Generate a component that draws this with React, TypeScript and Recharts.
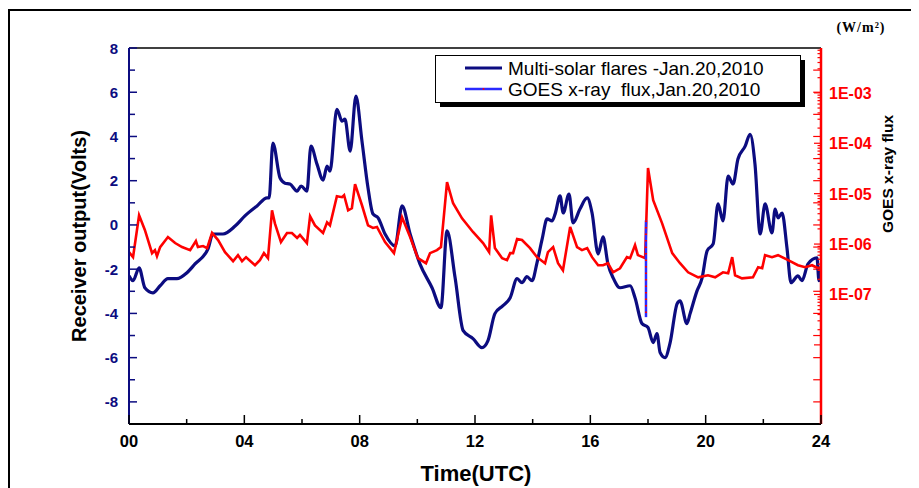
import React from 'react';
import { LineChart, Line, XAxis, YAxis, ReferenceLine } from 'recharts';

const NAVY = '#0c0c80';
const RED = '#ff0000';
const SPIKE_BLUE = '#2a2aff';
const FONT = '"Liberation Sans", Arial, sans-serif';

// Receiver output (Volts) vs time (hours UTC)
const flareHours = [
  0.0, 0.14, 0.35, 0.55, 0.83, 1.08, 1.35, 1.66, 2.01, 2.29,
  2.74, 2.91, 3.26, 3.68, 4.02, 4.44, 4.79, 4.86, 4.99, 5.24,
  5.41, 5.58, 5.83, 5.97, 6.17, 6.31, 6.52, 6.73, 6.87, 6.97,
  7.21, 7.39, 7.49, 7.67, 7.87, 8.08, 8.29, 8.46, 8.64, 8.88,
  9.23, 9.47, 9.75, 10.09, 10.51, 10.82, 11.03, 11.31, 11.59, 11.93,
  12.24, 12.45, 12.69, 12.97, 13.22, 13.46, 13.63, 13.8, 13.98, 14.15,
  14.33, 14.5, 14.67, 14.78, 14.95, 15.06, 15.26, 15.4, 15.64, 15.89,
  16.06, 16.27, 16.44, 16.61, 16.79, 17.03, 17.38, 17.55, 17.79, 18.0,
  18.18, 18.31, 18.42, 18.59, 18.76, 19.01, 19.11, 19.35, 19.46, 19.7,
  19.87, 20.05, 20.26, 20.43, 20.6, 20.78, 20.95, 21.12, 21.37, 21.54,
  21.71, 21.89, 22.06, 22.3, 22.41, 22.51, 22.65, 22.82, 22.96, 23.2,
  23.34, 23.55, 23.86, 23.93, 24.0,
];
const flareVolts = [
  -2.3, -2.52, -1.94, -2.84, -3.07, -2.75, -2.43, -2.43, -2.16, -1.76,
  -1.08, -0.41, -0.41, -0.05, 0.41, 0.86, 1.22, 1.22, 3.7, 2.12,
  1.89, 1.85, 1.53, 1.76, 1.53, 3.56, 2.75, 2.03, 2.66, 2.43,
  5.23, 4.69, 4.78, 3.34, 5.82, 3.79, 1.67, 0.5, 0.32, -0.41,
  -0.95, 0.86, -0.41, -1.76, -2.84, -3.74, -0.27, -2.39, -4.78, -5.14,
  -5.55, -5.23, -4.01, -3.65, -3.29, -2.43, -2.61, -2.34, -2.52, -1.71,
  -0.63, 0.27, 0.18, 0.5, 1.31, 0.54, 1.4, 0.09, 0.72, 1.22,
  0.54, -1.31, -0.54, -1.76, -2.39, -2.84, -2.75, -3.29, -4.46, -4.64,
  -5.32, -4.91, -5.77, -6.0, -5.37, -3.56, -3.43, -4.46, -4.01, -2.98,
  -2.43, -1.17, -0.86, 0.95, 0.18, 2.21, 1.85, 2.98, 3.56, 4.1,
  2.75, -0.41, 0.95, -0.36, 0.72, 0.32, 0.54, -1.04, -2.61, -2.3,
  -2.52, -1.76, -1.49, -2.52, -2.07,
];

// GOES x-ray flux, log10(W/m^2), vs time (hours UTC)
const goesHours = [
  0.0, 0.14, 0.35, 0.55, 0.8, 0.9, 0.97, 1.08, 1.35, 1.6,
  1.84, 2.12, 2.32, 2.39, 2.57, 2.71, 2.88, 3.09, 3.33, 3.61,
  3.78, 3.92, 4.06, 4.37, 4.54, 4.68, 4.82, 4.96, 5.06, 5.27,
  5.48, 5.65, 5.83, 5.93, 6.17, 6.28, 6.45, 6.73, 6.87, 6.97,
  7.21, 7.39, 7.46, 7.6, 7.73, 7.84, 8.08, 8.29, 8.46, 8.6,
  8.88, 9.19, 9.47, 9.75, 10.02, 10.3, 10.44, 10.68, 10.82, 11.03,
  11.24, 11.55, 11.93, 12.28, 12.49, 12.56, 12.69, 12.94, 13.11, 13.22,
  13.32, 13.46, 13.63, 13.91, 14.15, 14.43, 14.53, 14.71, 14.88, 15.05,
  15.3, 15.54, 15.71, 15.89, 16.06, 16.27, 16.44, 16.61, 16.79, 17.03,
  17.27, 17.38, 17.55, 17.65, 17.9, 18.0, 18.18, 18.49, 18.84, 19.11,
  19.39, 19.74, 20.08, 20.33, 20.6, 20.78, 20.92, 21.02, 21.26, 21.64,
  21.82, 21.96, 22.06, 22.3, 22.51, 22.86, 23.2, 23.45, 23.69, 23.9,
  24.0,
];
const goesLogFlux = [
  -6.16, -6.26, -5.43, -5.72, -6.18, -6.12, -6.24, -6.06, -5.86, -5.98,
  -6.06, -6.12, -5.94, -6.06, -6.04, -6.08, -5.78, -5.92, -6.16, -6.34,
  -6.22, -6.34, -6.26, -6.42, -6.32, -6.18, -6.28, -5.33, -5.59, -5.96,
  -5.78, -5.78, -5.88, -5.82, -5.98, -5.45, -5.63, -5.78, -5.57, -5.63,
  -5.05, -5.07, -5.03, -5.33, -5.29, -4.81, -5.23, -5.63, -5.68, -5.66,
  -5.96, -6.18, -5.47, -5.86, -6.28, -6.38, -6.18, -6.12, -6.06, -4.77,
  -5.19, -5.49, -5.76, -5.98, -6.16, -5.43, -6.08, -6.28, -6.32, -6.18,
  -6.18, -5.9, -5.92, -6.08, -6.26, -6.38, -6.16, -6.06, -6.38, -6.52,
  -5.66, -6.06, -6.12, -6.08, -6.26, -6.42, -6.42, -6.38, -6.56, -6.48,
  -6.26, -6.28, -6.02, -6.22, -6.28, -4.49, -5.13, -5.59, -6.18, -6.38,
  -6.56, -6.66, -6.62, -6.66, -6.56, -6.58, -6.26, -6.62, -6.68, -6.66,
  -6.46, -6.48, -6.22, -6.26, -6.22, -6.32, -6.42, -6.46, -6.42, -6.48,
  -6.46,
];

// data-gap spike in the GOES record
const spikeHours = [17.93, 17.93];
const spikeLogFlux = [-5.53, -7.45];

const xTicks = [0, 2, 4, 6, 8, 10, 12, 14, 16, 18, 20, 22, 24];
const xLabels = ['00', '04', '08', '12', '16', '20', '24'];
const voltTicks = [-8, -7, -6, -5, -4, -3, -2, -1, 0, 1, 2, 3, 4, 5, 6, 7, 8];
const voltUnitMarks = [-8, -7, -6, -5, -4, -3, -2, -1, 0, 1, 2, 3, 4, 5, 6, 7];
const fluxDecades = [-7, -6, -5, -4, -3];
const fluxLabels = ['1E-07', '1E-06', '1E-05', '1E-04', '1E-03'];
const minorDecades = [-8, -7, -6, -5, -4, -3];
const minorFactors = [2, 3, 4, 5, 6, 7, 8, 9];

const VOLT_DOMAIN: [number, number] = [-9, 8];
const FLUX_DOMAIN: [number, number] = [-9.57, -2.11];

const flareData = flareHours.map((h, i) => ({ h, v: flareVolts[i] }));
const goesData = goesHours.map((h, i) => ({ h, f: goesLogFlux[i] }));
const spikeData = spikeHours.map((h, i) => ({ h, f: spikeLogFlux[i] }));

const rightTicks = [
  ...fluxDecades,
  -8,
  ...minorDecades.flatMap((d) => minorFactors.map((k) => d + Math.log10(k))),
].filter((t) => t > FLUX_DOMAIN[0] && t < FLUX_DOMAIN[1]);

const XTick = (props: any) => {
  const { x, y, payload } = props;
  const v = payload.value;
  const idx = xLabels.indexOf(String(v).padStart(2, '0'));
  const major = v % 4 === 0;
  return (
    <g>
      <line x1={x} x2={x} y1={y} y2={y - (major ? 9 : 5)} stroke="#000" strokeWidth={1.5} />
      {major && idx >= 0 && (
        <text x={x} y={y + 23} textAnchor="middle" fontFamily={FONT} fontWeight="bold" fontSize={16.5} fill="#000">
          {xLabels[idx]}
        </text>
      )}
    </g>
  );
};

const LeftTick = (props: any) => {
  const { x, y, payload } = props;
  const v = payload.value;
  const major = v % 2 === 0;
  return (
    <g>
      <line x1={x} x2={x + (major ? 8 : 6)} y1={y} y2={y} stroke={NAVY} strokeWidth={1.5} />
      {major && (
        <text x={x - 11} y={y + 5.5} textAnchor="end" fontFamily={FONT} fontWeight="bold" fontSize={15} fill={NAVY}>
          {v}
        </text>
      )}
    </g>
  );
};

const RightTick = (props: any) => {
  const { x, y, payload } = props;
  const v = payload.value;
  const idx = fluxDecades.indexOf(v);
  const decade = Number.isInteger(v);
  return (
    <g>
      <line x1={x} x2={x - (decade ? 7 : 3.5)} y1={y} y2={y} stroke={RED} strokeWidth={1.2} />
      {idx >= 0 && (
        <text x={x + 8} y={y + 6} textAnchor="start" fontFamily={FONT} fontWeight="bold" fontSize={16} fill={RED}>
          {fluxLabels[idx]}
        </text>
      )}
    </g>
  );
};

export default function App() {
  return (
    <div style={{ position: 'relative', width: 911, height: 480, background: '#fff' }}>
      <LineChart
        width={911}
        height={480}
        margin={{ top: 40, right: 0, bottom: 0, left: 0 }}
      >
        <XAxis
          type="number"
          dataKey="h"
          domain={[0, 24]}
          ticks={xTicks}
          interval={0}
          height={64}
          tickSize={0}
          tickMargin={0}
          tickLine={false}
          tick={<XTick />}
          axisLine={{ stroke: '#000', strokeWidth: 2 }}
          allowDataOverflow
        />
        <YAxis
          yAxisId="left"
          orientation="left"
          type="number"
          domain={VOLT_DOMAIN}
          ticks={voltTicks}
          interval={0}
          width={121}
          tickSize={0}
          tickMargin={0}
          tickLine={false}
          tick={<LeftTick />}
          axisLine={{ stroke: NAVY, strokeWidth: 2 }}
          allowDataOverflow
        />
        <YAxis
          yAxisId="right"
          orientation="right"
          type="number"
          domain={FLUX_DOMAIN}
          ticks={rightTicks}
          interval={0}
          width={98}
          tickSize={0}
          tickMargin={0}
          tickLine={false}
          tick={<RightTick />}
          axisLine={{ stroke: RED, strokeWidth: 2.5 }}
          allowDataOverflow
        />
        <ReferenceLine yAxisId="left" y={8} stroke="#000" strokeWidth={1.5} />
        {voltUnitMarks.map((v) => (
          <ReferenceLine
            key={'vm' + v}
            yAxisId="left"
            segment={[{ x: 23.73, y: v }, { x: 24, y: v }]}
            stroke={RED}
            strokeWidth={1.2}
          />
        ))}
        <Line
          yAxisId="left"
          data={flareData}
          dataKey="v"
          type="monotone"
          stroke={NAVY}
          strokeWidth={3.2}
          dot={false}
          isAnimationActive={false}
        />
        <Line
          yAxisId="right"
          data={goesData}
          dataKey="f"
          type="linear"
          stroke={RED}
          strokeWidth={2.6}
          dot={false}
          isAnimationActive={false}
        />
        <Line
          yAxisId="right"
          data={spikeData}
          dataKey="f"
          type="linear"
          stroke={SPIKE_BLUE}
          strokeWidth={2.5}
          dot={false}
          isAnimationActive={false}
        />
        <Line
          yAxisId="right"
          data={spikeData}
          dataKey="f"
          type="linear"
          stroke={RED}
          strokeWidth={2}
          strokeDasharray="1.5 5"
          dot={false}
          isAnimationActive={false}
        />
      </LineChart>
      <svg
        width={911}
        height={480}
        style={{ position: 'absolute', left: 0, top: 0, pointerEvents: 'none' }}
      >
        <line x1={0} y1={2} x2={911} y2={2} stroke="#000" strokeWidth={2} />
        <line x1={1} y1={1} x2={1} y2={480} stroke="#000" strokeWidth={2} />
        <text
          transform="translate(78,228) rotate(-90)"
          textAnchor="middle"
          fontFamily={FONT}
          fontWeight="bold"
          fontSize={20}
          fill="#000"
        >
          Receiver output(Volts)
        </text>
        <text
          transform="translate(885,166) rotate(-90)"
          textAnchor="middle"
          fontFamily={FONT}
          fontWeight="bold"
          fontSize={15.5}
          fill="#000"
        >
          GOES x-ray flux
        </text>
        <text
          x={853}
          y={24}
          textAnchor="middle"
          fontFamily='"Liberation Serif", "Times New Roman", serif'
          fontWeight="bold"
          fontSize={14}
          letterSpacing={1}
          fill="#000"
        >
          (W/m²)
        </text>
        <text
          x={468}
          y={473}
          textAnchor="middle"
          fontFamily={FONT}
          fontWeight="bold"
          fontSize={22}
          fill="#000"
        >
          Time(UTC)
        </text>
        {/* legend */}
        <rect x={432} y={52} width={365} height={47} fill="#000" />
        <rect x={427.5} y={47.5} width={365} height={47} fill="#fff" stroke="#000" strokeWidth={1} />
        <line x1={457} y1={60} x2={494} y2={60} stroke={NAVY} strokeWidth={3} />
        <text x={500} y={67} fontFamily={FONT} fontSize={19} fill="#000">
          Multi-solar flares -Jan.20,2010
        </text>
        <line x1={457} y1={81} x2={494} y2={81} stroke={SPIKE_BLUE} strokeWidth={2.5} />
        <circle cx={475.5} cy={81} r={1} fill={RED} />
        <text x={500} y={88} fontFamily={FONT} fontSize={19} fill="#000" style={{ whiteSpace: 'pre' }}>
          {'GOES x-ray  flux,Jan.20,2010'}
        </text>
      </svg>
    </div>
  );
}
